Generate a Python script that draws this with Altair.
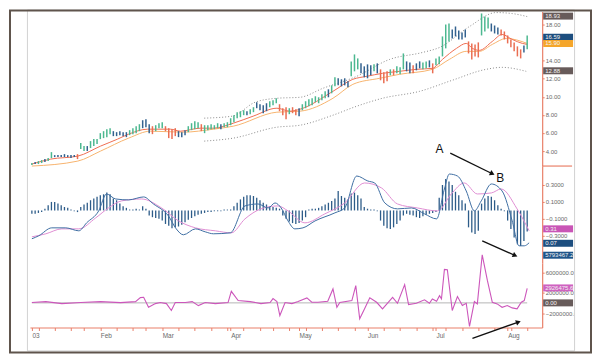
import altair as alt
import pandas as pd

FONT = "Liberation Sans"
GREEN = "#4cb890"
BLUE = "#33628f"
RED = "#ea6e52"
SALMON = "#e9806a"
MA_RED = "#ef6d52"
MA_ORANGE = "#f7b46e"
ENV = "#8a8a8a"
MACD_BLUE = "#3f6ea3"
SIG_PINK = "#e08fd3"
HIST = "#2d5c89"
OSC = "#cc56bb"

# ---------------- price bars (trading-day index 0 = 2 Jan 2003) ----------------
bar_high = [2.67, 2.78, 2.89, 3.00, 3.11, 3.22, 3.88, 3.55, 3.55, 3.55,
            3.66, 3.55, 3.55, 3.55, 3.66, 4.88, 4.55, 4.55, 5.10, 5.32,
            5.32, 5.98, 6.20, 6.42, 6.53, 6.20, 6.09, 6.20, 6.09, 6.09,
            6.31, 6.53, 6.75, 6.97, 7.41, 7.52, 6.97, 6.75, 6.86, 7.08,
            7.19, 6.75, 6.53, 6.42, 6.53, 6.20, 6.09, 6.31, 6.75, 7.08,
            7.30, 7.19, 6.97, 6.86, 6.86, 6.97, 6.86, 7.08, 6.97, 7.08,
            7.19, 7.63, 7.97, 8.30, 8.41, 8.52, 8.41, 8.63, 8.85, 9.40,
            9.18, 9.07, 9.29, 9.51, 9.62, 9.84, 9.18, 8.74, 8.85, 8.74,
            8.85, 8.63, 8.74, 9.18, 9.51, 9.73, 9.84, 10.06, 9.95, 10.28,
            10.61, 10.83, 11.27, 12.16, 12.05, 11.94, 12.05, 11.72, 13.92, 14.69,
            14.25, 13.70, 13.37, 13.59, 13.48, 13.59, 13.70, 13.04, 12.71, 12.82,
            13.04, 13.04, 13.37, 13.26, 14.80, 13.92, 13.81, 13.48, 13.70, 13.92,
            13.81, 13.92, 14.03, 13.70, 14.25, 14.47, 16.68, 18.00, 18.11, 17.45,
            17.78, 17.34, 17.12, 17.45, 16.13, 15.91, 15.80, 16.02, 19.22, 18.89,
            18.78, 18.11, 17.89, 17.67, 17.45, 17.23, 16.79, 16.35, 16.02, 15.58,
            15.25, 15.69, 16.79]
bar_low = [2.45, 2.56, 2.56, 2.67, 2.78, 2.89, 3.22, 3.33, 3.33, 3.33,
           3.33, 3.33, 3.22, 3.33, 3.11, 4.22, 4.00, 4.00, 4.33, 4.55,
           4.77, 5.32, 5.43, 5.54, 5.87, 5.65, 5.65, 5.76, 5.65, 5.54,
           5.76, 5.87, 5.98, 6.20, 6.53, 6.64, 5.98, 5.87, 6.20, 6.53,
           6.53, 6.20, 5.43, 5.32, 5.65, 5.54, 5.54, 5.76, 6.09, 6.31,
           6.42, 6.53, 6.20, 5.98, 6.31, 6.42, 6.42, 6.53, 6.42, 6.64,
           6.64, 6.86, 7.19, 7.63, 7.74, 7.97, 7.97, 8.08, 8.30, 8.74,
           8.52, 8.19, 8.41, 8.85, 9.07, 9.29, 8.41, 7.97, 7.52, 8.08,
           8.19, 7.97, 7.85, 8.52, 8.74, 8.96, 9.07, 9.40, 9.29, 9.62,
           9.84, 9.95, 10.39, 11.16, 11.27, 11.16, 11.27, 11.05, 12.27, 12.82,
           13.04, 12.60, 12.16, 12.05, 12.38, 12.82, 12.60, 11.83, 11.50, 11.72,
           12.38, 12.38, 12.60, 12.49, 13.04, 12.82, 12.60, 12.60, 12.93, 13.15,
           13.04, 13.15, 13.26, 12.60, 13.48, 13.59, 14.47, 15.36, 16.12, 16.46,
           16.68, 16.35, 16.35, 16.57, 14.80, 14.14, 14.47, 14.36, 16.79, 17.23,
           17.56, 17.23, 17.01, 16.90, 16.79, 16.35, 15.91, 15.47, 15.03, 14.47,
           14.25, 14.91, 15.25]
bar_kind = ("gbggbggbbb" "bbbbrggbgg" "gggggbbbbb" "ggggbbbrgg" "grrrrbbbgg"
            "ggrgggggbg" "ggggggbggb" "bbbgggrrrg" "rrbggggggg" "gbggbbbbgg"
            "gbbbbgbrrr" "grgggbbrbb" "ggbrgggggb" "bbbbrrrrgg" "gbbbrrrrrr" "rbg")

# moving averages and envelope (index, price)
red_x = [0, 5.8, 14.1, 21.1, 26.3, 29.7, 35.5, 42.5, 45.6, 51.7, 55.7, 61.8, 67.9, 75.2, 79.2, 82.3,
         92.4, 98.5, 102.8, 107.6, 112.8, 118, 122.9, 126, 130.3, 133.3, 135.2, 137.3, 141.3, 144.3,
         147.4, 150.5, 152]
red_v = [2.56, 3.11, 3.44, 4.55, 5.32, 5.87, 6.42, 6.42, 6.2, 6.53, 6.53, 7.08, 7.86, 8.74, 8.41, 8.63,
         10.61, 11.94, 12.27, 12.6, 12.82, 13.04, 13.15, 14.14, 15.36, 15.91, 15.36, 15.14, 16.13, 16.9,
         16.35, 15.91, 15.8]
org_x = [0, 14.1, 21.1, 29.7, 36.4, 46.5, 55.7, 61.8, 75.2, 82.3, 92.4, 98.5, 106.7, 112.8, 122.9,
         128.1, 133.3, 137.3, 141.3, 145.6, 152]
org_v = [2.34, 2.89, 4.0, 5.43, 6.2, 6.09, 6.42, 6.75, 8.3, 8.41, 9.84, 11.38, 12.05, 12.49, 13.04,
         14.14, 15.03, 15.03, 15.8, 16.46, 15.91]
up_x = [52.9, 61.5, 68.5, 75.2, 82.3, 89.3, 99.7, 109.8, 119.9, 125.1, 134.3, 142.5, 147.4, 152]
up_v = [7.64, 7.86, 9.4, 9.84, 9.95, 10.94, 12.27, 14.14, 14.91, 15.46, 17.78, 19.32, 19.21, 18.88]
lo_x = [52.9, 61.8, 75.2, 82.3, 92.4, 99.7, 107.6, 119, 129, 139.4, 144.3, 151.7]
lo_v = [5.1, 5.43, 6.64, 6.86, 7.97, 8.96, 9.84, 10.61, 11.83, 13.04, 13.26, 12.82]

# MACD histogram (one per bar), MACD and signal lines
hist = [-0.04, -0.04, -0.03, -0.02,
        0.02, 0.06, 0.10, 0.10, 0.08, 0.06, 0.04,
        0.03, 0.01, -0.01, -0.02,
        0.04, 0.07, 0.09, 0.12, 0.14, 0.16, 0.18, 0.19, 0.21,
        0.19, 0.14, 0.12, 0.08, 0.05, 0.03,
        0.01, 0.01, 0.02, 0.01, 0.05,
        0.02, -0.06, -0.08, -0.09, -0.10, -0.12, -0.16, -0.18, -0.21, -0.20, -0.19, -0.17, -0.14,
        -0.11, -0.09, -0.07, -0.05, -0.04, -0.03,
        -0.02, -0.02, -0.01, -0.01, -0.01, 0.01, 0.01, 0.01,
        0.05, 0.09, 0.13, 0.16, 0.18, 0.18, 0.17, 0.15,
        0.12, 0.09, 0.07, 0.05, 0.04, 0.03, 0.02,
        -0.06, -0.10, -0.13, -0.15, -0.16, -0.15, -0.12, -0.08,
        0.01, 0.02, 0.02, 0.03,
        0.05, 0.07, 0.09, 0.11, 0.14, 0.23,
        0.17, 0.15, 0.13, 0.20, 0.21, 0.18, 0.14,
        0.04, 0.02, 0.01, 0.01, -0.01,
        -0.12, -0.18, -0.21, -0.22, -0.20, -0.16, -0.12,
        -0.06, -0.04, -0.05,
        -0.06, -0.08, -0.09, -0.07, -0.05, -0.04, -0.03, -0.02,
        0.15, 0.30, 0.37, 0.34, 0.30,
        0.22, 0.18, 0.12, 0.08,
        -0.20, -0.26, -0.28, -0.24,
        0.08, 0.14, 0.17, 0.16, 0.12,
        0.06, 0.02, -0.01,
        -0.12, -0.22, -0.32, -0.40, -0.42, -0.36, -0.25]
macd_x = [0, 2.1, 6.1, 10.4, 14.4, 16.8, 20.5, 22.9, 25.7, 29.7,
          34.3, 37.3, 41.9, 44.3, 46.5, 50.2, 53.2, 55.7, 60.9, 65.4,
          69.4, 72.5, 74.6, 76.5, 78.6, 80.7, 83.2, 86.9, 93.0, 96.0,
          99.7, 103.1, 105.2, 108.3, 112.2, 116.5, 120.5, 124.2, 126.6, 128.1,
          130.6, 133.3, 135.8, 137.9, 141.0, 144.3, 147.4, 149.5, 151.1, 152.6]
macd_v = [-0.335, -0.30, -0.206, -0.206, -0.241, -0.147, -0.006, 0.194, 0.135, 0.124,
          0.159, 0.076, -0.065, -0.218, -0.288, -0.218, -0.253, -0.276, -0.265, 0.053,
          0.076, 0.029, 0.088, 0.029, -0.124, -0.218, -0.206, -0.124, -0.029, 0.029,
          0.406, 0.347, 0.324, 0.088, 0.018, 0.029, -0.041, -0.1, 0.253, 0.429,
          0.406, 0.229, -0.006, 0.112, 0.312, 0.229, -0.124, -0.418, -0.418, -0.382]
sig_x = [0, 4.3, 9.2, 14.4, 19.6, 23.5, 27.5, 33.6, 39.8, 45.0,
         50.2, 56.3, 61.2, 65.4, 70.3, 75.5, 78.6, 83.8, 89.9, 96.0,
         102.1, 107.3, 112.2, 118.3, 124.5, 128.7, 132.7, 136.7, 141.0, 144.0,
         148.9, 152.6]
sig_v = [-0.312, -0.276, -0.218, -0.218, -0.088, 0.029, 0.112, 0.135, 0.029, -0.124,
         -0.206, -0.241, -0.265, -0.1, 0.018, 0.053, -0.006, -0.147, -0.041, 0.088,
         0.324, 0.265, 0.076, 0.029, -0.006, 0.194, 0.324, 0.194, 0.206, 0.253,
         0.018, -0.241]

# lower oscillator (millions)
osc_x = [0, 4.3, 9.2, 15, 21.1, 27.2, 31.8, 33.3, 34.3, 35.8,
         37.9, 39.4, 41.3, 42.8, 44, 47.1, 49.2, 51.1, 53.2, 56.3,
         60.2, 61.2, 63.3, 67, 70.3, 73.1, 74, 75.2, 76.1, 77.7,
         79.8, 81.7, 84.4, 85.9, 87.8, 90.8, 92.4, 93.6, 94.5, 98.2,
         99.4, 100.6, 102.1, 103.7, 105.8, 107.6, 110.7, 112.2, 114.4, 115.6,
         118, 120.5, 122, 122.9, 124.2, 125.1, 125.7, 126.6, 127.5, 129,
         130.6, 132.1, 133.3, 134.3, 135.8, 136.7, 138.2, 139.8, 141.3, 142.8,
         144.3, 145.9, 147.4, 148.9, 150.2, 151.1, 152]
osc_v = [0.06, 0.25, -0.14, 0.06, 0.25, 0.06, 0.25, 1.03, 1.09, -0.86,
         -0.14, 0.06, -0.14, -1.5, 0.06, 0.06, 0.25, -0.53, 0.06, -0.14,
         0.06, 2.26, 0.45, 0.25, -0.14, 0.06, 0.84, 0.25, -2.48, 0.06,
         -0.14, 0.25, 0.98, 0.12, 0.12, 0.31, 2.73, -0.86, 0.06, 0.45,
         3.38, -3.12, -1.17, 0.98, 0.12, -1.17, 1.09, -0.08, 3.57, -0.33,
         -0.08, 0.59, -0.08, 0.78, 0.31, 1.42, 0.78, 6.56, 6.5, -1.5,
         1.23, -0.53, -0.08, -4.62, 0.25, -0.2, 9.42, 4.35, 0.12, -0.2,
         -0.86, -0.53, -0.98, -1.17, 0.12, 0.45, 2.85]

# axis ticks / labels
month_idx = [0, 21, 40, 61, 82, 103, 124, 146]
month_lbl = ["03", "Feb", "Mar", "Apr", "May", "Jun", "Jul", "Aug"]
week_idx = [2, 7, 12, 16, 26, 31, 35, 45, 50, 55, 60, 65, 70, 74, 79, 84, 89, 94, 99,
            108, 113, 118, 123, 127, 132, 137, 142, 147, 152]
price_ticks = [4, 6, 8, 10, 12, 14, 16, 18]
macd_ticks = [0.3, 0.1, -0.1, -0.3]
osc_ticks = [6, 2, -2]

# last-value boxes
pbox_v = [18.93, 16.59, 15.90, 12.88]
pbox_t = ["18.93", "16.59", "15.90", "12.88"]
pbox_c = ["#675b5a", "#1d4e7f", "#f5a62b", "#675b5a"]
mbox_v = [-0.2176, -0.388, -0.529]
mbox_t = ["0.31", "0.07", "5793467.2"]
mbox_c = ["#c955b6", "#1d4e7f", "#1f5589"]
obox_v = [2.93, 0.0]
obox_t = ["2926475.6", "0.00"]
obox_c = ["#cf62c0", "#675b5a"]

# annotations (index, value in panel units)
lab_x = [125.1, 143.7]
lab_v = [0.7235, 0.382]
lab_t = ["A", "B"]
arr_x1 = [128.4, 138.2]
arr_v1 = [0.676, -0.359]
arr_x2 = [141.3, 148.3]
arr_v2 = [0.433, -0.532]
arr_ang = [26, 24]
arr3_x1 = [135.2]
arr3_v1 = [-6.97]
arr3_x2 = [149.3]
arr3_v2 = [-3.75]
arr3_ang = [340]

# ---------------- chart ----------------
W = 514
H1, H2, H3 = 155, 97, 65
xs = alt.Scale(domain=[-0.6, 156.6], nice=False, zero=False)
ps = alt.Scale(domain=[2.34, 19.43], nice=False, zero=False)
ms = alt.Scale(domain=[-0.6176, 0.5235], nice=False, zero=False)
os_ = alt.Scale(domain=[-4.82, 7.863], nice=False, zero=False)


def yaxis(values, fmt=None, expr=None):
    kw = dict(orient="right", values=values, title=None, grid=False, labelFontSize=6,
              labelFont=FONT, labelColor="#6a6a6a", tickSize=2, tickColor=SALMON,
              domainColor=SALMON, domainWidth=1.2, labelPadding=1, zindex=0)
    if fmt:
        kw["format"] = fmt
    if expr:
        kw["labelExpr"] = expr
    return alt.Axis(**kw)


pax = yaxis(price_ticks, fmt=".2f")
max_ = yaxis(macd_ticks, fmt=".4f")
oax = yaxis(osc_ticks, expr="format(datum.value*1000000, '.1f')")

lbl_expr = " : ".join(f"datum.value == {v} ? '{t}'" for v, t in zip(month_idx, month_lbl)) + " : ''"
xax = alt.Axis(values=sorted(month_idx + week_idx), labelExpr=lbl_expr, title=None, grid=False,
               labelAlign="left", labelFontSize=6.5, labelFont=FONT, labelColor="#6a6a6a",
               tickSize=3, tickColor=SALMON, domainColor=SALMON, domainWidth=1.2, labelPadding=2,
               labelFlush=False, labelOverlap=False, zindex=0)

X = lambda f: alt.X(f, scale=xs, axis=None)
one = pd.DataFrame({"z": [0]})

# price panel
bars_df = pd.DataFrame({"i": list(range(len(bar_high))), "hi": bar_high, "lo": bar_low,
                        "k": list(bar_kind)})


def pline(xv, yv, color, dash=None):
    kw = dict(color=color, strokeWidth=1, interpolate="monotone")
    if dash:
        kw["strokeDash"] = dash
    return alt.Chart(pd.DataFrame({"i": xv, "v": yv})).mark_line(**kw).encode(
        x=X("i:Q"), y=alt.Y("v:Q", scale=ps, axis=pax))


bars = alt.Chart(bars_df).mark_rule(strokeWidth=1.5).encode(
    x=X("i:Q"), y=alt.Y("hi:Q", scale=ps, axis=pax), y2="lo:Q",
    color=alt.Color("k:N", scale=alt.Scale(domain=["g", "b", "r"], range=[GREEN, BLUE, RED]),
                    legend=None))


def boxes(vals, texts, cols, scale, axis):
    df = pd.DataFrame({"v": vals, "t": texts, "c": cols})
    t = alt.Chart(df).mark_tick(thickness=7, size=30, opacity=1).encode(
        x=alt.value(W + 16), y=alt.Y("v:Q", scale=scale, axis=axis),
        color=alt.Color("c:N", scale=None))
    s = alt.Chart(df).mark_text(align="left", baseline="middle", fontSize=6, font=FONT,
                                color="#f2f2f2").encode(
        x=alt.value(W + 3), y=alt.Y("v:Q", scale=scale, axis=axis), text="t:N")
    return [t, s]


price = alt.layer(
    pline(up_x, up_v, ENV, [1, 2]),
    pline(lo_x, lo_v, ENV, [1, 2]),
    pline(org_x, org_v, MA_ORANGE),
    pline(red_x, red_v, MA_RED),
    bars,
    *boxes(pbox_v, pbox_t, pbox_c, ps, pax),
).properties(width=W, height=H1)

# MACD panel
hist_df = pd.DataFrame({"i": list(range(len(hist))), "h": hist, "z": [0.0] * len(hist)})
histo = alt.Chart(hist_df).mark_rule(strokeWidth=1.3, color=HIST).encode(
    x=X("i:Q"), y=alt.Y("h:Q", scale=ms, axis=max_), y2="z:Q")


def mline(xv, yv, color):
    return alt.Chart(pd.DataFrame({"i": xv, "v": yv})).mark_line(
        color=color, strokeWidth=1, interpolate="monotone").encode(
        x=X("i:Q"), y=alt.Y("v:Q", scale=ms, axis=max_))


sep = alt.Chart(one).mark_rule(color=SALMON, strokeWidth=1.2).encode(
    x=alt.value(W), x2=alt.value(W + 30), y=alt.value(0))
labs = alt.Chart(pd.DataFrame({"i": lab_x, "v": lab_v, "t": lab_t})).mark_text(
    fontSize=12, font=FONT, color="#111").encode(
    x=X("i:Q"), y=alt.Y("v:Q", scale=ms, axis=max_), text="t:N")
arr_df = pd.DataFrame({"x1": arr_x1, "v1": arr_v1, "x2": arr_x2, "v2": arr_v2, "a": arr_ang})
arrows = alt.Chart(arr_df).mark_rule(color="#111", strokeWidth=1.3).encode(
    x=X("x1:Q"), x2="x2:Q", y=alt.Y("v1:Q", scale=ms, axis=max_), y2="v2:Q")
heads = alt.Chart(arr_df).mark_point(shape="triangle-right", filled=True, size=32,
                                     color="#111", opacity=1).encode(
    x=X("x2:Q"), y=alt.Y("v2:Q", scale=ms, axis=max_), angle=alt.Angle("a:Q", scale=None))

macd = alt.layer(
    histo, mline(sig_x, sig_v, SIG_PINK), mline(macd_x, macd_v, MACD_BLUE),
    *boxes(mbox_v, mbox_t, mbox_c, ms, max_), sep, labs, arrows, heads,
).properties(width=W, height=H2)

# oscillator panel
base_df = pd.DataFrame({"a": [0], "b": [152], "v": [0.0]})
base = alt.Chart(base_df).mark_rule(color="#b5b5b5", strokeWidth=1).encode(
    x=alt.X("a:Q", scale=xs, axis=xax), x2="b:Q", y=alt.Y("v:Q", scale=os_, axis=oax))
oscl = alt.Chart(pd.DataFrame({"i": osc_x, "v": osc_v})).mark_line(
    color=OSC, strokeWidth=1.1).encode(
    x=alt.X("i:Q", scale=xs, axis=xax), y=alt.Y("v:Q", scale=os_, axis=oax))
arr3_df = pd.DataFrame({"x1": arr3_x1, "v1": arr3_v1, "x2": arr3_x2, "v2": arr3_v2, "a": arr3_ang})
arrow3 = alt.Chart(arr3_df).mark_rule(color="#111", strokeWidth=1.3).encode(
    x=alt.X("x1:Q", scale=xs, axis=xax), x2="x2:Q", y=alt.Y("v1:Q", scale=os_, axis=oax), y2="v2:Q")
head3 = alt.Chart(arr3_df).mark_point(shape="triangle-right", filled=True, size=32,
                                      color="#111", opacity=1).encode(
    x=alt.X("x2:Q", scale=xs, axis=xax), y=alt.Y("v2:Q", scale=os_, axis=oax),
    angle=alt.Angle("a:Q", scale=None))
cover = alt.Chart(one).mark_rect(color="white").encode(
    x=alt.value(W + 32.5), x2=alt.value(W + 48), y=alt.value(-254), y2=alt.value(88))
inner = alt.Chart(one).mark_rect(fillOpacity=0, stroke="#d2d2d2", strokeWidth=1).encode(
    x=alt.value(-2.5), x2=alt.value(W + 32.5), y=alt.value(-253.5), y2=alt.value(88.5))
frame = alt.Chart(one).mark_rect(fillOpacity=0, stroke="#5f544c", strokeWidth=2).encode(
    x=alt.value(-20), x2=alt.value(W + 49), y=alt.value(-253), y2=alt.value(90))

osc = alt.layer(
    base, oscl, *boxes(obox_v, obox_t, obox_c, os_, oax), arrow3, head3, cover, inner, frame,
).properties(width=W, height=H3)

chart = alt.vconcat(price, macd, osc, spacing=0, bounds="flush").properties(
    padding=0, background="white").configure_view(stroke="transparent")

chart.save("out.html", embed_options={"renderer": "svg", "actions": False})
